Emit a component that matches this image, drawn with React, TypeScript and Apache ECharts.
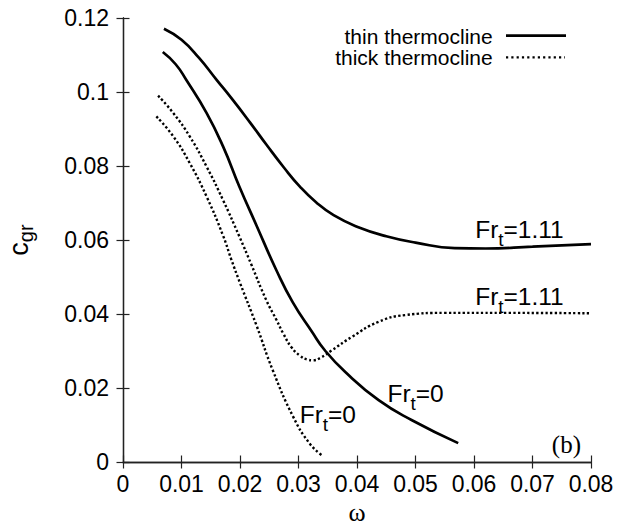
import React, { useEffect, useRef } from "react";
import * as echarts from "echarts";

// ---- data (ω, c_gr) ----
const thinFr111: [number, number][] = [
  [0.007, 0.1171], [0.01, 0.1141], [0.013, 0.1092], [0.016, 0.1033],
  [0.0188, 0.0978], [0.0217, 0.0918], [0.0245, 0.0858], [0.0275, 0.0796],
  [0.0302, 0.0745], [0.033, 0.0702], [0.036, 0.0667], [0.04, 0.0636],
  [0.045, 0.061], [0.05, 0.0593], [0.0567, 0.0578], [0.062, 0.0577],
  [0.07, 0.0582], [0.08, 0.0589],
];
const thinFr0: [number, number][] = [
  [0.0068, 0.1108], [0.009, 0.1075], [0.0108, 0.1033], [0.0143, 0.0943],
  [0.0171, 0.0853], [0.0199, 0.0744], [0.0228, 0.064], [0.0262, 0.0519],
  [0.029, 0.0432], [0.0323, 0.0352], [0.0345, 0.0302], [0.038, 0.0243],
  [0.0437, 0.0167], [0.0494, 0.0113], [0.0573, 0.0051],
];
const thickFr111: [number, number][] = [
  [0.006, 0.099], [0.0086, 0.0943], [0.0114, 0.088], [0.0143, 0.0798],
  [0.0171, 0.0708], [0.0199, 0.0609], [0.0219, 0.0535], [0.0245, 0.0437],
  [0.0262, 0.0385], [0.0274, 0.0347], [0.0288, 0.0310], [0.0302, 0.0288],
  [0.0315, 0.0277], [0.0325, 0.0275], [0.0338, 0.0282], [0.0357, 0.0302],
  [0.0391, 0.0338], [0.0437, 0.0379], [0.0482, 0.0397], [0.055, 0.0403],
  [0.065, 0.0403], [0.08, 0.0402],
];
const thickFr0: [number, number][] = [
  [0.0057, 0.0934], [0.0086, 0.088], [0.0114, 0.0808], [0.0143, 0.0717],
  [0.0171, 0.0612], [0.0185, 0.0548], [0.02, 0.0484], [0.0228, 0.037],
  [0.0256, 0.0248], [0.0291, 0.0122], [0.0319, 0.005], [0.034, 0.0018],
];

const legendNames = ["thin thermocline", "thick thermocline"];
const curveLabels = ["Fr", "t"];
// label anchors (top-left of each annotation) in data coordinates
const labelAnchors: { w: number; c: number; value: string }[] = [
  { w: 0.0602, c: 0.0662, value: "=1.11" },
  { w: 0.0602, c: 0.0482, value: "=1.11" },
  { w: 0.0452, c: 0.0220, value: "=0" },
  { w: 0.0302, c: 0.0163, value: "=0" },
];

const SANS = "'Liberation Sans', Arial, Helvetica, sans-serif";
const SERIF = "'Liberation Serif', 'Times New Roman', serif";

const fmt = (v: number) => String(+v.toFixed(4));

export default function App() {
  const ref = useRef<HTMLDivElement>(null);
  useEffect(() => {
    if (!ref.current) return;
    const chart = echarts.init(ref.current, undefined, { renderer: "svg" });
    const axisLine = { show: true, lineStyle: { color: "#222", width: 1.3 } };
    const tick = { show: true, inside: true, length: 6.5, lineStyle: { color: "#222", width: 1.2 } };
    const solid = { color: "#000", width: 2.7 };
    const dotted = { color: "#000", width: 2.4, type: [2.3, 2.3] as any, cap: "butt" as const };
    const richLabel = {
      m: { fontSize: 24.5, fontFamily: SANS, color: "#000", lineHeight: 25, verticalAlign: "top" as const },
      s: { fontSize: 19, fontFamily: SANS, color: "#000", lineHeight: 19, padding: [13, 0, 0, 0], verticalAlign: "top" as const },
    };
    chart.setOption({
      animation: false,
      backgroundColor: "#fff",
      grid: { left: 123, right: 41, top: 18, bottom: 68, containLabel: false, outerBoundsMode: "none" },
      xAxis: [
        {
          type: "value", min: 0, max: 0.08, interval: 0.01,
          name: "ω", nameLocation: "middle", nameGap: 36,
          nameTextStyle: { fontFamily: SERIF, fontSize: 26, color: "#000" },
          axisLine, axisTick: tick, splitLine: { show: false },
          axisLabel: { fontFamily: SANS, fontSize: 23, color: "#000", margin: 10, formatter: fmt },
        },
        {
          type: "value", position: "top", min: 0, max: 0.08, interval: 0.01,
          axisLine, axisTick: tick, splitLine: { show: false }, axisLabel: { show: false },
        },
      ],
      yAxis: [
        {
          type: "value", min: 0, max: 0.12, interval: 0.02,
          name: "{c|c}{s|gr}", nameLocation: "middle", nameGap: 91,
          nameTextStyle: {
            rich: {
              c: { fontSize: 27, fontFamily: SANS, color: "#000", lineHeight: 27, verticalAlign: "top" },
              s: { fontSize: 20, fontFamily: SANS, color: "#000", lineHeight: 20, padding: [11, 0, 0, 0], verticalAlign: "top" },
            },
          },
          axisLine, axisTick: tick, splitLine: { show: false },
          axisLabel: { fontFamily: SANS, fontSize: 23, color: "#000", margin: 14, formatter: fmt },
        },
        {
          type: "value", position: "right", min: 0, max: 0.12, interval: 0.02,
          axisLine, axisTick: tick, splitLine: { show: false }, axisLabel: { show: false },
        },
      ],
      series: [
        { name: legendNames[0], type: "line", data: thinFr111, showSymbol: false, symbol: "none", smooth: 0.5, lineStyle: solid },
        { name: legendNames[0], type: "line", data: thinFr0, showSymbol: false, symbol: "none", smooth: 0.5, lineStyle: solid },
        { name: legendNames[1], type: "line", data: thickFr111, showSymbol: false, symbol: "none", smooth: 0.5, lineStyle: dotted },
        { name: legendNames[1], type: "line", data: thickFr0, showSymbol: false, symbol: "none", smooth: 0.5, lineStyle: dotted },
        {
          type: "scatter", silent: true, symbolSize: 0, z: 10,
          itemStyle: { color: "#000", opacity: 1 },
          data: labelAnchors.map((a) => ({ value: [a.w, a.c], name: a.value })),
          label: {
            show: true, position: [0, 0], align: "left", verticalAlign: "top",
            color: "#000", textBorderWidth: 0, opacity: 1,
            formatter: (p: any) => `{m|${curveLabels[0]}}{s|${curveLabels[1]}}{m|${p.name}}`,
            rich: richLabel,
          },
        },
      ],
      graphic: [
        { type: "text", x: 492.7, y: 36.2, style: { text: legendNames[0], font: `21px ${SANS}`, fill: "#000", align: "right", verticalAlign: "middle" } },
        { type: "text", x: 492.7, y: 57.9, style: { text: legendNames[1], font: `21px ${SANS}`, fill: "#000", align: "right", verticalAlign: "middle" } },
        { type: "line", shape: { x1: 506, y1: 35.7, x2: 566, y2: 35.7 }, style: { stroke: "#000", lineWidth: 2.7 } },
        { type: "line", shape: { x1: 506, y1: 57.3, x2: 565, y2: 57.3 }, style: { stroke: "#000", lineWidth: 2.3, lineDash: [2.2, 3.1] } },
        { type: "text", x: 581, y: 444, style: { text: "(b)", font: `25px ${SERIF}`, fill: "#000", align: "right", verticalAlign: "middle" } },
      ],
    });
    return () => chart.dispose();
  }, []);
  return <div ref={ref} style={{ position: "fixed", left: 0, top: 0, width: 632, height: 530, background: "#fff" }} />;
}
